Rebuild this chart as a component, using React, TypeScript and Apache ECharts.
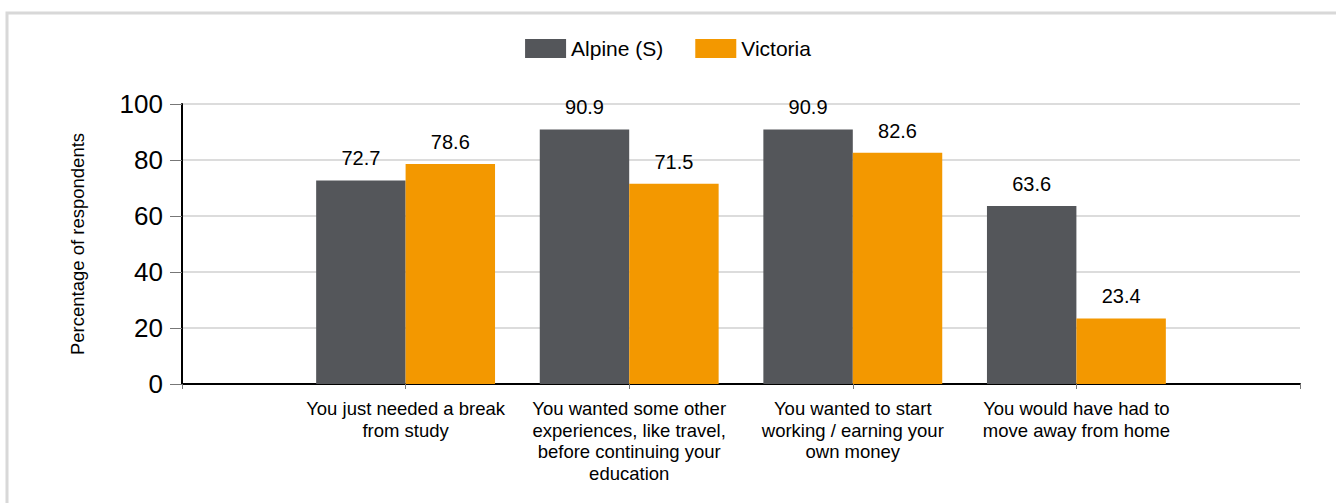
import React, { useEffect, useRef } from "react";
import * as echarts from "echarts";

const categories = [
  "",
  "You just needed a break\nfrom study",
  "You wanted some other\nexperiences, like travel,\nbefore continuing your\neducation",
  "You wanted to start\nworking / earning your\nown money",
  "You would have had to\nmove away from home",
  "",
];
const alpine = [null, 72.7, 90.9, 90.9, 63.6, null];
const victoria = [null, 78.6, 71.5, 82.6, 23.4, null];
const yTicks = { min: 0, max: 100, interval: 20 };

export default function App() {
  const ref = useRef<HTMLDivElement>(null);
  useEffect(() => {
    if (!ref.current) return;
    const chart = echarts.init(ref.current, undefined, { renderer: "svg" });
    const font = "Liberation Sans, Arial, sans-serif";
    const labelStyle = {
      show: true,
      position: "top" as const,
      distance: 12,
      color: "#000",
      fontSize: 20,
      fontFamily: font,
    };
    chart.setOption({
      animation: false,
      backgroundColor: "#fff",
      textStyle: { fontFamily: font },
      graphic: [
        {
          type: "rect",
          shape: { x: 7, y: 13, width: 1400, height: 600 },
          style: { fill: "none", stroke: "#d8d8d8", lineWidth: 3 },
          silent: true,
        },
      ],
      legend: {
        top: 33,
        left: "center",
        icon: "rect",
        itemWidth: 41,
        itemHeight: 19,
        itemGap: 32,
        textStyle: { fontSize: 21, color: "#000", fontFamily: font },
        data: ["Alpine (S)", "Victoria"],
      },
      grid: { left: 182, right: 36, top: 104, bottom: 119, containLabel: false },
      xAxis: {
        type: "category",
        data: categories,
        boundaryGap: false,
        axisLine: { lineStyle: { color: "#000", width: 2 } },
        axisTick: { show: true, length: 5, lineStyle: { color: "#777" } },
        axisLabel: {
          color: "#000",
          fontSize: 18.5,
          lineHeight: 21.5,
          margin: 14,
          interval: 0,
          fontFamily: font,
        },
        splitLine: { show: false },
      },
      yAxis: {
        type: "value",
        min: yTicks.min,
        max: yTicks.max,
        interval: yTicks.interval,
        name: "Percentage of respondents",
        nameLocation: "middle",
        nameGap: 95,
        nameTextStyle: { color: "#000", fontSize: 18.5, fontFamily: font },
        axisLine: { show: true, lineStyle: { color: "#000", width: 2 } },
        axisTick: { show: true, length: 12, lineStyle: { color: "#777" } },
        axisLabel: { color: "#000", fontSize: 26, margin: 19, fontFamily: font },
        splitLine: { show: true, lineStyle: { color: "#dcdcdc", width: 2 } },
      },
      series: [
        {
          name: "Alpine (S)",
          type: "bar",
          data: alpine,
          itemStyle: { color: "#54565a" },
          barGap: "0%",
          barCategoryGap: "20%",
          label: labelStyle,
        },
        {
          name: "Victoria",
          type: "bar",
          data: victoria,
          itemStyle: { color: "#f39800" },
          barGap: "0%",
          barCategoryGap: "20%",
          label: labelStyle,
        },
      ],
    });
    return () => chart.dispose();
  }, []);
  return (
    <div
      ref={ref}
      style={{ position: "fixed", left: 0, top: 0, width: 1336, height: 503 }}
    />
  );
}
